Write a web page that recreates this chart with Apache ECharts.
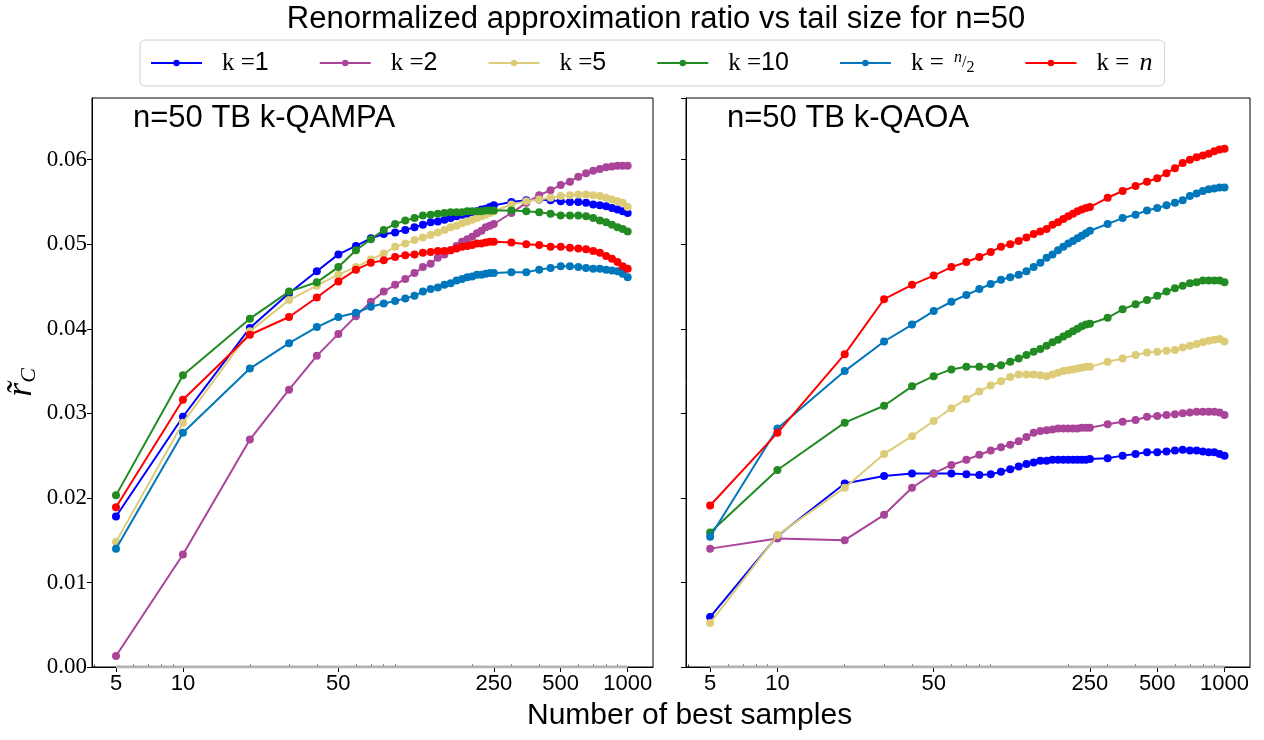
<!DOCTYPE html>
<html>
<head>
<meta charset="utf-8">
<script src="https://cdn.jsdelivr.net/npm/echarts@6/dist/echarts.min.js"></script>
<style>
html,body{margin:0;padding:0;background:#fff;}
#chart{width:1264px;height:740px;}
</style>
</head>
<body>
<div id="chart"></div>
<script>
// ---------- data ----------
const samples = [5,10,20,30,40,50,60,70,80,90,100,110,120,130,140,150,160,170,180,190,200,210,220,230,240,250,300,350,400,450,500,550,600,650,700,750,800,850,900,950,1000];
const xTickLabels = [5,10,50,250,500,1000];
const xMinorTicks = [4,6,7,8,9,20,30,40,60,70,80,90,200,300,400,600,700,800,900];
const yTickLabels = [0,0.01,0.02,0.03,0.04,0.05,0.06];
const seriesNames = ['k1','k2','k5','k10','kn2','kn'];

// Left panel: n=50 TB k-QAMPA
const qampa_k1  = [0.0178,0.0296,0.0401,0.0442,0.0468,0.0488,0.0498,0.0507,0.0512,0.0514,0.0517,0.0520,0.0523,0.0526,0.0527,0.0529,0.0531,0.0533,0.0535,0.0536,0.0538,0.0539,0.0541,0.0542,0.0544,0.0546,0.0550,0.0552,0.0553,0.0552,0.0551,0.0550,0.0550,0.0549,0.0547,0.0546,0.0545,0.0543,0.0541,0.0539,0.0537];
const qampa_k2  = [0.0013,0.0133,0.0269,0.0328,0.0368,0.0394,0.0415,0.0432,0.0444,0.0452,0.0459,0.0466,0.0473,0.0477,0.0484,0.0488,0.0493,0.0498,0.0503,0.0506,0.0509,0.0513,0.0516,0.0520,0.0522,0.0524,0.0537,0.0549,0.0558,0.0564,0.0570,0.0574,0.0580,0.0584,0.0587,0.0589,0.0591,0.0592,0.0593,0.0593,0.0593];
const qampa_k5  = [0.0148,0.0289,0.0397,0.0434,0.0451,0.0464,0.0473,0.0482,0.0489,0.0497,0.0501,0.0505,0.0508,0.0511,0.0514,0.0517,0.0520,0.0522,0.0525,0.0527,0.0529,0.0531,0.0533,0.0535,0.0537,0.0539,0.0547,0.0551,0.0553,0.0555,0.0557,0.0558,0.0559,0.0559,0.0558,0.0557,0.0555,0.0553,0.0551,0.0549,0.0544];
const qampa_k10 = [0.0203,0.0345,0.0412,0.0444,0.0455,0.0473,0.0493,0.0506,0.0517,0.0524,0.0528,0.0531,0.0534,0.0535,0.0536,0.0537,0.0538,0.0538,0.0538,0.0539,0.0539,0.0539,0.0539,0.0540,0.0540,0.0540,0.0540,0.0539,0.0538,0.0536,0.0534,0.0534,0.0534,0.0533,0.0531,0.0528,0.0526,0.0523,0.0520,0.0518,0.0515];
const qampa_kn2 = [0.0140,0.0277,0.0353,0.0383,0.0402,0.0414,0.0419,0.0426,0.0430,0.0433,0.0436,0.0439,0.0444,0.0447,0.0449,0.0452,0.0454,0.0457,0.0459,0.0461,0.0462,0.0464,0.0464,0.0465,0.0466,0.0466,0.0467,0.0467,0.0470,0.0472,0.0474,0.0474,0.0473,0.0472,0.0471,0.0471,0.0470,0.0469,0.0468,0.0465,0.0461];
const qampa_kn  = [0.0189,0.0316,0.0393,0.0414,0.0437,0.0456,0.0470,0.0478,0.0481,0.0485,0.0487,0.0488,0.0490,0.0491,0.0492,0.0492,0.0493,0.0495,0.0497,0.0498,0.0499,0.0501,0.0501,0.0502,0.0503,0.0503,0.0502,0.0500,0.0499,0.0497,0.0497,0.0496,0.0495,0.0494,0.0492,0.0490,0.0486,0.0483,0.0479,0.0474,0.0471];

// Right panel: n=50 TB k-QAOA
const qaoa_k1  = [0.0059,0.0155,0.0217,0.0226,0.0229,0.0229,0.0229,0.0228,0.0227,0.0228,0.0231,0.0234,0.0237,0.0240,0.0242,0.0244,0.0244,0.0245,0.0245,0.0245,0.0245,0.0245,0.0245,0.0245,0.0245,0.0246,0.0247,0.0250,0.0252,0.0254,0.0254,0.0255,0.0256,0.0257,0.0256,0.0256,0.0255,0.0254,0.0254,0.0252,0.0250];
const qaoa_k2  = [0.0140,0.0152,0.0150,0.0180,0.0212,0.0229,0.0239,0.0245,0.0251,0.0256,0.0260,0.0263,0.0267,0.0272,0.0277,0.0279,0.0280,0.0281,0.0282,0.0282,0.0282,0.0282,0.0282,0.0283,0.0283,0.0283,0.0287,0.0290,0.0292,0.0296,0.0297,0.0298,0.0299,0.0300,0.0301,0.0302,0.0302,0.0302,0.0302,0.0301,0.0298];
const qaoa_k5  = [0.0052,0.0156,0.0212,0.0252,0.0273,0.0291,0.0306,0.0317,0.0326,0.0333,0.0338,0.0343,0.0346,0.0346,0.0346,0.0345,0.0344,0.0346,0.0348,0.0350,0.0351,0.0352,0.0353,0.0354,0.0355,0.0355,0.0361,0.0365,0.0369,0.0372,0.0373,0.0374,0.0375,0.0378,0.0380,0.0382,0.0384,0.0386,0.0387,0.0388,0.0385];
const qaoa_k10 = [0.0159,0.0233,0.0289,0.0309,0.0332,0.0344,0.0352,0.0355,0.0355,0.0355,0.0357,0.0361,0.0365,0.0369,0.0373,0.0376,0.0380,0.0384,0.0387,0.0391,0.0394,0.0397,0.0400,0.0403,0.0405,0.0406,0.0413,0.0423,0.0429,0.0434,0.0439,0.0444,0.0448,0.0451,0.0454,0.0455,0.0457,0.0457,0.0457,0.0457,0.0455];
const qaoa_kn2 = [0.0154,0.0282,0.0350,0.0385,0.0405,0.0421,0.0432,0.0440,0.0447,0.0453,0.0458,0.0461,0.0464,0.0468,0.0473,0.0478,0.0484,0.0488,0.0493,0.0497,0.0501,0.0504,0.0507,0.0510,0.0513,0.0516,0.0524,0.0531,0.0535,0.0540,0.0543,0.0546,0.0549,0.0552,0.0557,0.0560,0.0563,0.0565,0.0566,0.0567,0.0567];
const qaoa_kn  = [0.0191,0.0277,0.0370,0.0435,0.0452,0.0463,0.0473,0.0479,0.0485,0.0491,0.0497,0.0500,0.0504,0.0508,0.0512,0.0515,0.0518,0.0523,0.0526,0.0530,0.0533,0.0536,0.0539,0.0541,0.0543,0.0544,0.0555,0.0563,0.0569,0.0574,0.0578,0.0584,0.0590,0.0596,0.0600,0.0603,0.0605,0.0607,0.0610,0.0612,0.0613];

const colors = ['#0000ff','#aa4499','#ddcc77','#228b22','#0077bb','#ff0000'];
const leftData  = [qampa_k1,qampa_k2,qampa_k5,qampa_k10,qampa_kn2,qampa_kn];
const rightData = [qaoa_k1,qaoa_k2,qaoa_k5,qaoa_k10,qaoa_kn2,qaoa_kn];

// ---------- chart ----------
const XMIN = 3.9, XMAX = 1300;
const YMAX = 0.0673;
const serif = "'Liberation Serif', 'DejaVu Serif', serif";
const sans = "'Liberation Sans', 'DejaVu Sans', sans-serif";

function pairs(vals){ return samples.map((x,i)=>[x, vals[i]]); }

function mkX(grid){
  return {
    type:'log', logBase:10, gridIndex:grid, min:XMIN, max:XMAX,
    axisLine:{show:true, onZero:false, lineStyle:{color:'#000', width:1}},
    axisTick:{show:true, customValues:xTickLabels, length:5, lineStyle:{color:'#000', width:1}},
    axisLabel:{customValues:xTickLabels, formatter:(v)=>String(Math.round(v)), color:'#000', fontFamily:sans, fontSize:22, margin:6},
    splitLine:{show:false}, minorTick:{show:false}
  };
}
function mkXMinor(grid){
  return {
    type:'log', logBase:10, gridIndex:grid, min:XMIN, max:XMAX,
    axisLine:{show:false},
    axisTick:{show:true, customValues:xMinorTicks, length:2.5, lineStyle:{color:'#000', width:0.8}},
    axisLabel:{show:false, customValues:xMinorTicks},
    splitLine:{show:false}
  };
}
function mkY(grid, showLabels){
  return {
    type:'value', gridIndex:grid, min:0, max:YMAX, interval:0.01,
    axisLine:{show:true, lineStyle:{color:'#000', width:1}},
    axisTick:{show:true, length:5, lineStyle:{color:'#000'}},
    axisLabel:{show:showLabels, showMaxLabel:false, formatter:(v)=>v.toFixed(2), color:'#000', fontFamily:serif, fontSize:23, margin:5},
    splitLine:{show:false},
    name: showLabels ? '{r|r\u0303}{s|C}' : '',
    nameLocation:'middle', nameGap:52, nameRotate:90,
    nameTextStyle:{rich:{
      r:{fontFamily:serif, fontStyle:'italic', fontSize:36, color:'#000'},
      s:{fontFamily:serif, fontStyle:'italic', fontSize:22, color:'#000', verticalAlign:'bottom', padding:[14,0,0,0]}
    }}
  };
}

const legendLabels = {
  k1:'{m|k =}{t|1}', k2:'{m|k =}{t|2}', k5:'{m|k =}{t|5}', k10:'{m|k =}{t|10}',
  kn2:'{m|k = }{fn|n}{fs|/}{fd|2}', kn:'{m|k = }{i|n}'
};

const series = [];
seriesNames.forEach((nm,i)=>{
  [leftData, rightData].forEach((set, g)=>{
    series.push({
      name:nm, type:'line', xAxisIndex:g*2, yAxisIndex:g,
      data:pairs(set[i]), symbol:'circle', symbolSize:8, showSymbol:true,
      lineStyle:{color:colors[i], width:2}, itemStyle:{color:colors[i]},
      z:3+i, animation:false
    });
  });
});
[0,1].forEach(g=>{
  series.push({
    type:'line', xAxisIndex:g*2, yAxisIndex:g, data:[[5,0],[1000,0]],
    symbol:'none', silent:true, lineStyle:{color:'#b4b4b4', width:3}, z:2, animation:false
  });
});

const chart = echarts.init(document.getElementById('chart'), null, {renderer:'canvas'});
chart.setOption({
  backgroundColor:'#fff',
  animation:false,
  title:[
    {text:'Renormalized approximation ratio vs tail size for n=50', left:651, textAlign:'center', top:-1,
     textStyle:{fontFamily:sans, fontWeight:'normal', fontSize:31, color:'#000'}}
  ],
  legend:{
    data:seriesNames, left:140, top:40, width:1022,
    padding:[10,12,10,10], itemGap:50, itemWidth:51, itemHeight:8,
    borderColor:'#d0d0d0', borderWidth:1, borderRadius:5, backgroundColor:'#fff',
    formatter:(name)=>legendLabels[name],
    textStyle:{padding:[0,0,0,15], lineHeight:26, rich:{
      m:{fontFamily:serif, fontSize:25, color:'#000', lineHeight:26},
      t:{fontFamily:sans, fontSize:25, color:'#000', lineHeight:26},
      i:{fontFamily:serif, fontStyle:'italic', fontSize:26, color:'#000', lineHeight:26, padding:[0,0,0,4]},
      fn:{fontFamily:serif, fontStyle:'italic', fontSize:16, color:'#000', verticalAlign:'top', lineHeight:26, padding:[0,0,0,4]},
      fs:{fontFamily:serif, fontSize:16, color:'#000', lineHeight:26},
      fd:{fontFamily:serif, fontSize:16, color:'#000', verticalAlign:'bottom', lineHeight:26}
    }}
  },
  grid:[
    {left:92, top:98, width:561, height:569, show:true, borderColor:'#000', borderWidth:1, backgroundColor:'transparent'},
    {left:686, top:98, width:564, height:569, show:true, borderColor:'#000', borderWidth:1, backgroundColor:'transparent'}
  ],
  xAxis:[mkX(0), mkXMinor(0), mkX(1), mkXMinor(1)],
  yAxis:[mkY(0,true), mkY(1,false)],
  graphic:[
    {type:'text', left:133, top:103, style:{text:'n=50 TB k-QAMPA', font:"31px 'Liberation Sans'", fill:'#000'}},
    {type:'text', left:727, top:103, style:{text:'n=50 TB k-QAOA', font:"31px 'Liberation Sans'", fill:'#000'}},
    {type:'text', left:527, top:701, style:{text:'Number of best samples', font:"30px 'Liberation Sans'", fill:'#000'}}
  ],
  series:series
});
</script>
</body>
</html>
